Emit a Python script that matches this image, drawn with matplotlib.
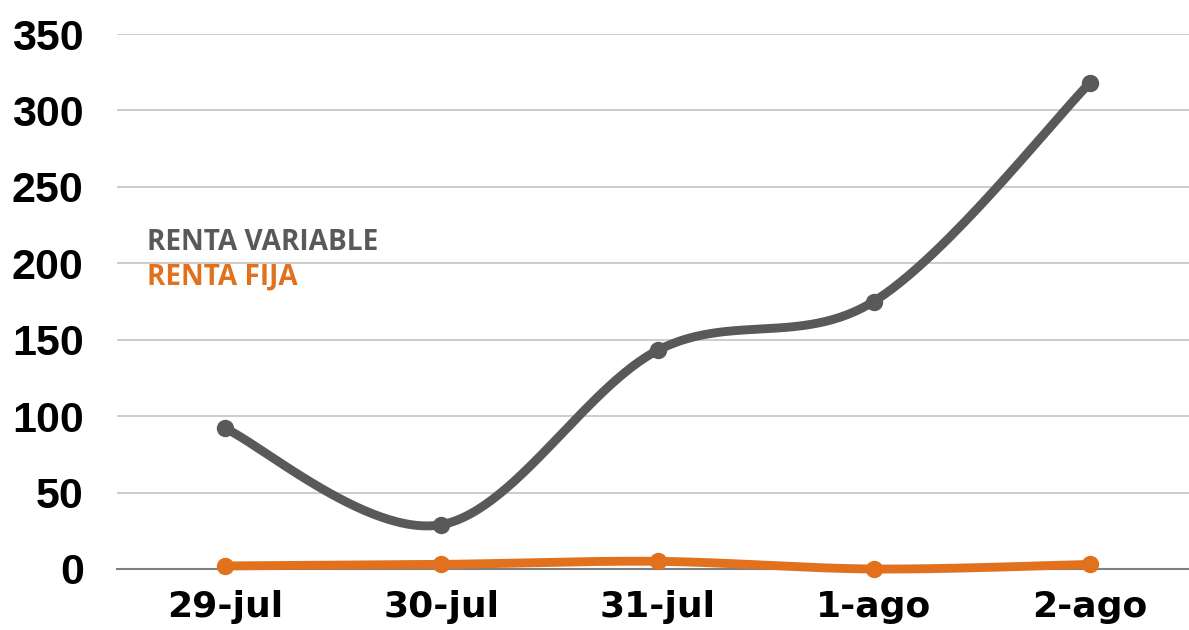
import numpy as np
import matplotlib
matplotlib.use("Agg")
import matplotlib.pyplot as plt

# datos
fechas = ["29-jul", "30-jul", "31-jul", "1-ago", "2-ago"]
renta_variable = [92, 29, 143, 175, 318]
renta_fija = [2, 3, 5, 0, 3]

GRIS = "#595959"
NARANJA = "#E2711D"


def suavizar(x, y, n=60):
    """Curva suave tipo Excel (bezier con tangentes Catmull-Rom)."""
    p = np.column_stack([x, y]).astype(float)
    ext = np.vstack([p[0], p, p[-1]])
    t = np.linspace(0, 1, n)[:, None]
    trozos = []
    for i in range(len(p) - 1):
        p0, p3 = ext[i + 1], ext[i + 2]
        c1 = p0 + (ext[i + 2] - ext[i]) / 6
        c2 = p3 - (ext[i + 3] - ext[i + 1]) / 6
        b = ((1 - t) ** 3) * p0 + 3 * ((1 - t) ** 2) * t * c1 + 3 * (1 - t) * t ** 2 * c2 + t ** 3 * p3
        trozos.append(b)
    c = np.vstack(trozos)
    return c[:, 0], c[:, 1]


fig = plt.figure(figsize=(11.89, 6.30), dpi=100)
ax = fig.add_axes([117 / 1189, 61 / 630, 1081 / 1189, 535 / 630])

x = np.arange(len(fechas))
for serie, color in [(renta_variable, GRIS), (renta_fija, NARANJA)]:
    sx, sy = suavizar(x, serie)
    ax.plot(sx, sy, color=color, lw=6.4, solid_capstyle="round", clip_on=False, zorder=3)
    ax.plot(x, serie, "o", color=color, ms=11.5, clip_on=False, zorder=4)

ax.set_xlim(-0.5, 4.5)
ax.set_ylim(0, 350)
ax.set_yticks(range(0, 351, 50))
ax.set_xticks(x)
ax.set_xticklabels(fechas, fontfamily="DejaVu Sans", fontweight="bold", fontsize=26)
for lbl in ax.get_yticklabels():
    lbl.set_fontfamily("Liberation Sans")
    lbl.set_fontweight("bold")
    lbl.set_fontsize(31)

ax.grid(axis="y", color="#c8c8c8", lw=1.3)
ax.set_axisbelow(True)
for s in ["top", "right", "left"]:
    ax.spines[s].set_visible(False)
ax.spines["bottom"].set_color("#808080")
ax.spines["bottom"].set_linewidth(1.5)
ax.tick_params(axis="both", length=0)
ax.tick_params(axis="y", pad=24)
ax.tick_params(axis="x", pad=15)

ax.text(147 / 1189, 1 - 243 / 630, "RENTA VARIABLE", transform=fig.transFigure,
        color=GRIS, fontsize=20.2, fontweight="bold", fontfamily="Open Sans", va="center")
ax.text(147 / 1189, 1 - 277 / 630, "RENTA FIJA", transform=fig.transFigure,
        color=NARANJA, fontsize=20.2, fontweight="bold", fontfamily="Open Sans", va="center")

fig.savefig("out.png", dpi=100)
